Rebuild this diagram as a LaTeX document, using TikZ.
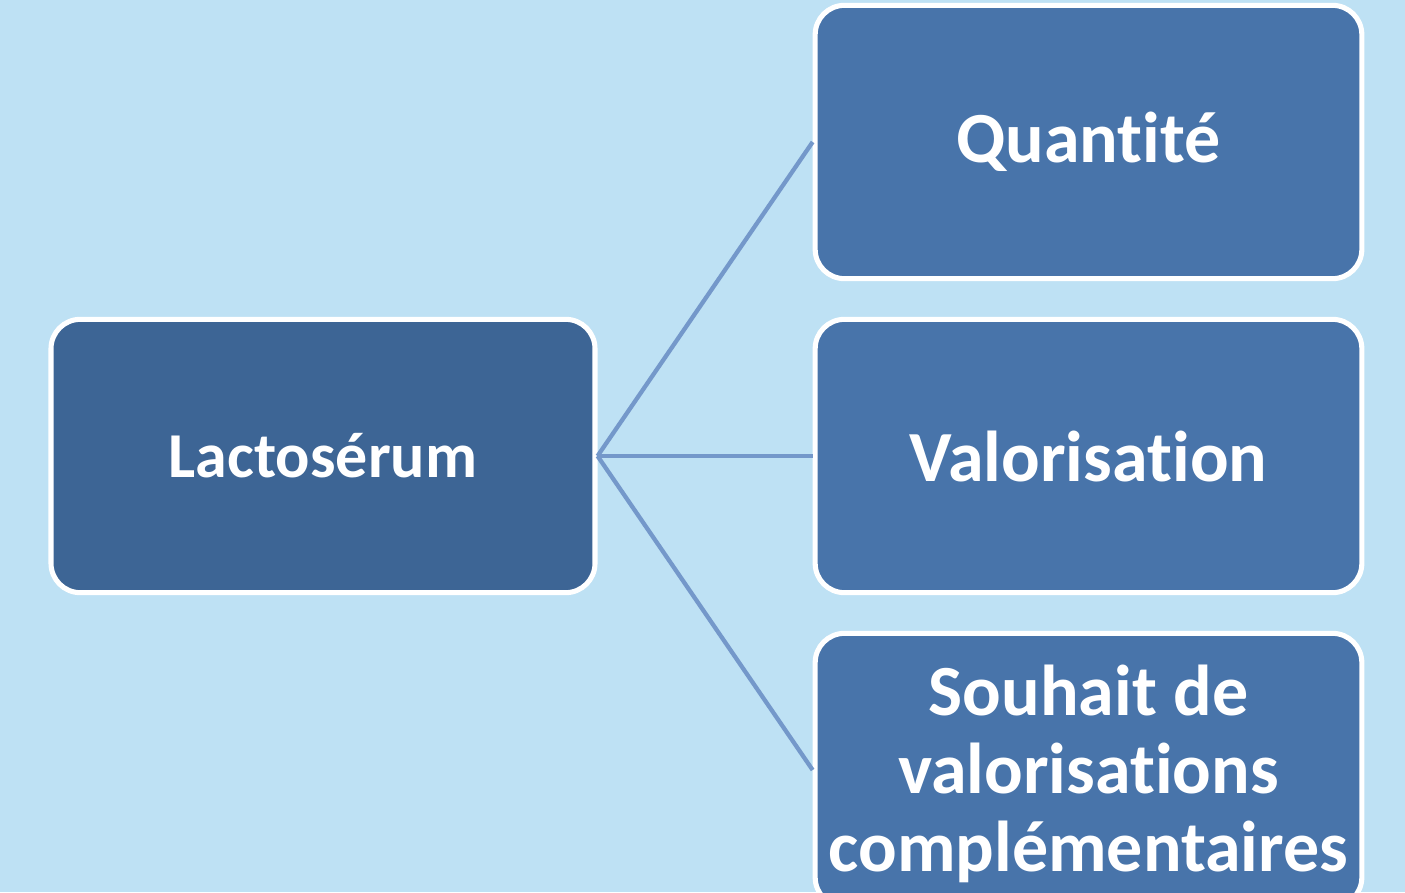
\documentclass[tikz,border=0pt]{standalone}
\usepackage{fontspec}
\setmainfont{Carlito}[Ligatures=NoCommon]
\definecolor{bg}{HTML}{BEE1F4}
\definecolor{dark}{HTML}{3D6595}
\definecolor{mid}{HTML}{4874AA}
\definecolor{link}{HTML}{7498CA}
\begin{document}
\begin{tikzpicture}[x=0.75pt,y=-0.75pt,
  box/.style={draw=white,line width=3.8pt,rounded corners=22pt,inner sep=0pt,
    minimum width=410pt,minimum height=205pt,text=white,align=center,
    font=\bfseries\fontsize{54}{58.5}\selectfont},
  conn/.style={draw=link,line width=3.2pt}]
\useasboundingbox (0,0) rectangle (1405,892);
\fill[bg] (0,0) rectangle (1405,892);
\begin{scope}
\clip (0,0) rectangle (1405,892);
\node[box,fill=dark,minimum width=408pt,font=\bfseries\fontsize{48}{52}\selectfont] (L) at (323,456) {Lactosérum};
\node[box,fill=mid] (Q) at (1088.5,142) {Quantité};
\node[box,fill=mid] (V) at (1088.5,456) {Valorisation};
\node[box,fill=mid] (S) at (1088.5,770) {};
\node[text=white,align=center,font=\bfseries\fontsize{54}{58.5}\selectfont,anchor=north] (St) at (1088.5,660) {Souhait de\\valorisations\\complémentaires};
\draw[conn] (L.east) -- (Q.west);
\draw[conn] (L.east) -- (V.west);
\draw[conn] (L.east) -- (S.west);
\end{scope}
\end{tikzpicture}
\end{document}
